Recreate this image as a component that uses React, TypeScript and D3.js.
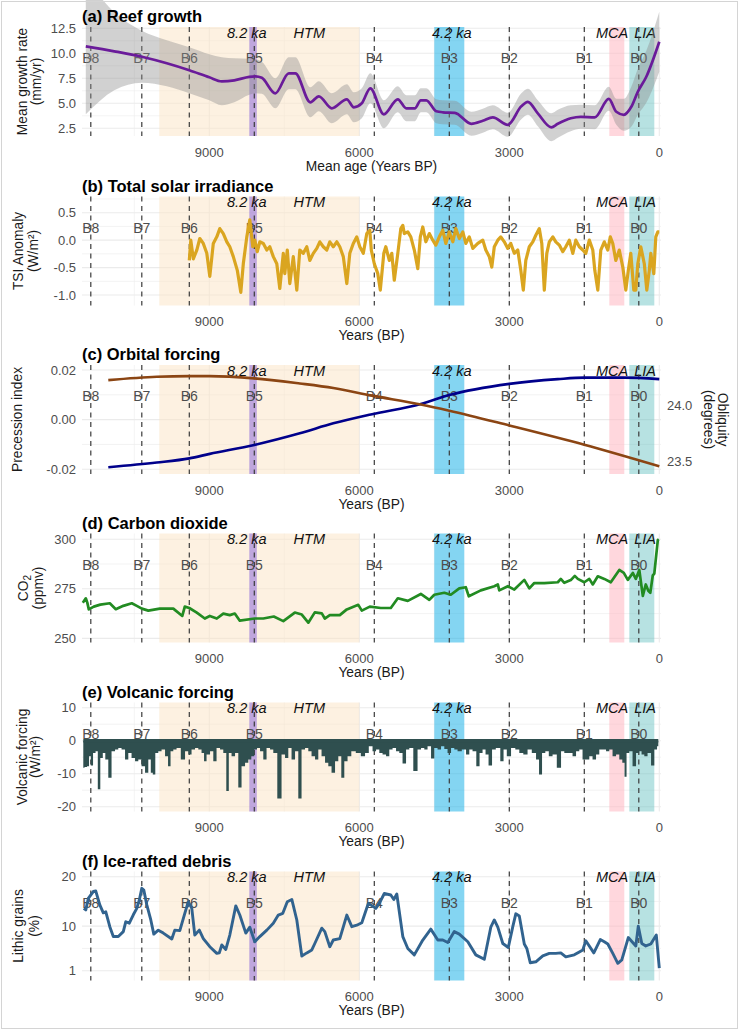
import React from "react";
import * as d3 from "d3";

const FONT = "'Liberation Sans', Arial, Helvetica, sans-serif";

// Bond events (years BP)
const bondLabels = ["B0", "B1", "B2", "B3", "B4", "B5", "B6", "B7", "B8"];
const bondAges = [410, 1500, 3000, 4200, 5700, 8100, 9400, 10350, 11370];

// Climate periods (years BP)
const periodLabels = ["HTM", "8.2 ka", "4.2 ka", "MCA", "LIA"];
const periodFrom = [10000, 8200, 4500, 1000, 600];
const periodTo = [6000, 8050, 3900, 700, 100];
const periodLabelAges = [7000, 8250, 4150, 945, 285];
const periodFills = ["#fbe3c4", "#9370db", "#1fb3e8", "#ffb6c1", "#5fbfbf"];
const periodOpacity = [0.5, 0.58, 0.55, 0.55, 0.45];

const xMajor = [9000, 6000, 3000, 0];
const xMinor = [10500, 7500, 4500, 1500];

// (a) reef growth: mean age, mean rate, standard error
const reefAge = [11470, 10900, 10350, 9850, 9400, 9000, 8750, 8500, 8200, 8080, 7950, 7680, 7410, 7280, 6980, 6810, 6550, 6250, 6110, 5950, 5780, 5510, 5230, 5060, 4890, 4770, 4660, 4460, 4330, 4090, 3760, 3530, 3330, 3030, 2760, 2630, 2430, 2160, 2030, 1770, 1570, 1290, 1010, 860, 710, 560, 430, 260, 0];
const reefRate = [10.7, 10.2, 9.65, 9.0, 8.3, 7.6, 7.2, 7.3, 7.65, 7.7, 7.55, 6.0, 8.0, 8.0, 5.1, 5.7, 4.5, 5.4, 4.6, 5.0, 6.5, 3.9, 5.4, 4.5, 4.5, 5.3, 5.3, 4.2, 4.1, 4.05, 2.95, 3.25, 3.6, 2.85, 4.7, 5.15, 4.0, 2.6, 2.95, 3.5, 3.65, 3.6, 5.45, 4.15, 3.85, 4.65, 6.15, 7.65, 11.15];
const reefSe = [6.8, 3.9, 2.6, 2.3, 2.3, 2.3, 2.4, 2.2, 1.8, 1.7, 1.6, 1.5, 1.6, 1.6, 1.5, 1.5, 1.5, 1.5, 1.5, 1.5, 1.5, 1.4, 1.3, 1.3, 1.3, 1.2, 1.2, 1.2, 1.2, 1.2, 1.2, 1.2, 1.2, 1.2, 1.3, 1.3, 1.3, 1.4, 1.4, 1.3, 1.2, 1.2, 1.2, 1.3, 1.6, 2.0, 2.3, 2.6, 3.0];

// (b) total solar irradiance anomaly [age, W/m2]
const tsiSeries: [number, number][] = [
  [9400, -0.37], [9370, 0.0], [9320, -0.34], [9250, -0.18], [9190, 0.03], [9120, -0.06], [9050, -0.24], [8990, -0.66], [8920, -0.06], [8850, 0.06], [8790, 0.21], [8720, 0.12], [8650, -0.03], [8590, -0.12], [8520, -0.3], [8440, -0.55], [8370, -0.95], [8320, -0.43], [8250, 0.06], [8190, 0.37], [8130, -0.12], [8090, 0.0], [8040, -0.21], [7990, -0.03], [7920, -0.06], [7850, -0.18], [7790, -0.12], [7720, -0.3], [7650, -0.43], [7590, -0.88], [7520, -0.24], [7490, -0.61], [7440, -0.18], [7390, -0.79], [7320, -0.3], [7250, -0.91], [7190, -0.18], [7120, -0.24], [7050, -0.12], [6990, -0.37], [6920, -0.24], [6850, -0.15], [6790, -0.03], [6720, -0.12], [6650, -0.18], [6590, -0.03], [6520, -0.12], [6450, -0.03], [6390, -0.12], [6320, -0.3], [6250, -0.79], [6190, -0.24], [6120, -0.06], [6050, 0.06], [5990, -0.12], [5920, -0.24], [5850, 0.12], [5790, 0.18], [5760, -0.18], [5700, -0.43], [5630, -0.61], [5580, -0.91], [5510, -0.24], [5470, -0.12], [5400, -0.37], [5350, -0.24], [5300, -0.73], [5230, -0.24], [5170, 0.21], [5130, 0.27], [5100, 0.12], [5030, 0.15], [4970, 0.06], [4900, -0.18], [4830, -0.52], [4780, 0.06], [4730, 0.24], [4670, -0.03], [4600, 0.12], [4530, 0.0], [4470, -0.09], [4400, 0.06], [4330, 0.18], [4270, -0.06], [4200, 0.15], [4130, -0.03], [4070, 0.21], [4000, 0.03], [3930, 0.15], [3870, -0.06], [3800, 0.06], [3730, -0.15], [3630, -0.06], [3530, 0.0], [3470, -0.18], [3400, -0.3], [3350, -0.49], [3300, -0.12], [3230, 0.0], [3170, 0.06], [3100, -0.03], [3030, -0.15], [2970, -0.06], [2900, -0.24], [2830, -0.18], [2770, -0.55], [2720, -0.91], [2670, -0.37], [2600, -0.12], [2530, -0.03], [2470, 0.09], [2400, 0.21], [2350, -0.06], [2300, -0.91], [2250, -0.24], [2200, -0.03], [2130, 0.06], [2070, -0.03], [2000, -0.09], [1930, -0.21], [1870, -0.12], [1800, 0.0], [1730, -0.24], [1670, 0.0], [1600, -0.12], [1530, -0.18], [1470, -0.24], [1400, 0.0], [1330, -0.18], [1290, -0.55], [1230, -0.91], [1170, -0.18], [1100, -0.03], [1030, -0.18], [980, 0.06], [930, -0.06], [870, -0.37], [800, -0.18], [730, -0.49], [670, -0.91], [620, -0.55], [570, -0.24], [510, -0.91], [470, -0.91], [430, -0.43], [370, -0.12], [300, -0.43], [250, -0.91], [200, -0.55], [170, -0.24], [110, -0.61], [70, 0.06], [30, 0.15], [0, 0.15],
];

// (c) orbital forcing
const precessionSeries: [number, number][] = [
  [11020, -0.0192], [10050, -0.0173], [9400, -0.0156], [8990, -0.0138], [8100, -0.0102], [7190, -0.0055], [6520, -0.0015], [5770, 0.0021], [4770, 0.0063], [4200, 0.0099], [3000, 0.0144], [2030, 0.0163], [1500, 0.0169], [700, 0.0169], [0, 0.0163],
];
const obliquitySeries: [number, number][] = [
  [11020, 24.22], [10050, 24.25], [9400, 24.255], [8990, 24.255], [8100, 24.235], [7190, 24.19], [6520, 24.15], [5770, 24.085], [4770, 24.005], [4200, 23.95], [3000, 23.82], [1500, 23.65], [0, 23.46],
];

// (d) carbon dioxide [age, ppmv]
const co2Series: [number, number][] = [
  [11530, 268.0], [11470, 270.2], [11440, 268.0], [11410, 264.6], [11310, 266.0], [11180, 267.0], [10990, 267.7], [10870, 264.7], [10720, 266.4], [10550, 267.7], [10450, 266.4], [10350, 265.0], [10220, 264.0], [9990, 265.0], [9720, 265.0], [9540, 261.3], [9490, 266.0], [9400, 265.3], [9250, 263.0], [9090, 260.0], [8990, 261.3], [8850, 260.0], [8720, 262.5], [8590, 261.7], [8490, 262.5], [8390, 258.9], [8090, 260.0], [7920, 260.0], [7710, 261.0], [7520, 258.7], [7290, 263.0], [7150, 262.0], [7020, 257.9], [6890, 263.1], [6750, 262.6], [6690, 260.0], [6590, 261.7], [6390, 261.7], [6250, 264.6], [6020, 266.9], [5950, 264.0], [5790, 266.0], [5570, 265.3], [5370, 265.3], [5230, 270.2], [5030, 268.9], [4770, 272.4], [4600, 269.4], [4500, 272.0], [4300, 273.0], [4170, 272.0], [4000, 275.2], [3870, 275.8], [3810, 271.2], [3570, 274.2], [3300, 276.3], [3230, 277.2], [3200, 274.2], [3030, 276.3], [2900, 274.6], [2700, 279.5], [2600, 275.2], [2500, 277.9], [2300, 277.9], [2030, 278.3], [1970, 280.0], [1900, 278.0], [1770, 279.4], [1690, 281.5], [1630, 280.0], [1500, 278.3], [1400, 280.0], [1330, 277.2], [1230, 281.3], [1100, 280.0], [970, 278.3], [800, 284.5], [710, 283.0], [630, 279.5], [530, 283.0], [470, 280.0], [400, 284.5], [330, 271.4], [270, 277.2], [220, 274.0], [180, 273.0], [130, 281.8], [100, 282.7], [30, 299.6], [10, 300.0],
];

// (e) volcanic forcing [age, W/m2]
const volcanicSeries: [number, number][] = [
  [11520, -8.2], [11470, -8.0], [11420, -7.7], [11390, -4.7], [11350, -7.5], [11300, -3.7], [11250, -3.2], [11210, -14.7], [11150, -5.2], [11110, -3.7], [11050, -5.7], [10990, -11.2], [10920, -3.2], [10850, -2.7], [10790, -2.2], [10720, -2.7], [10650, -5.7], [10590, -3.7], [10520, -5.2], [10450, -6.2], [10390, -5.7], [10320, -7.7], [10250, -9.7], [10190, -5.7], [10150, -9.7], [10110, -10.2], [10050, -3.7], [9990, -3.2], [9920, -2.7], [9850, -4.7], [9800, -7.7], [9750, -3.2], [9690, -2.7], [9620, -2.2], [9520, -5.7], [9450, -3.2], [9390, -4.2], [9320, -2.7], [9250, -2.2], [9190, -2.7], [9120, -3.7], [9090, -6.2], [9020, -4.2], [8950, -3.2], [8890, -6.2], [8820, -2.2], [8750, -2.7], [8690, -3.7], [8630, -15.2], [8590, -3.7], [8520, -4.7], [8450, -3.7], [8390, -14.2], [8320, -7.7], [8250, -6.7], [8190, -5.7], [8130, -4.7], [8070, -2.7], [8020, -2.2], [7950, -3.2], [7890, -5.7], [7820, -2.2], [7750, -2.7], [7690, -3.7], [7590, -17.5], [7520, -4.2], [7450, -5.2], [7390, -2.2], [7320, -5.7], [7250, -3.2], [7190, -17.5], [7120, -2.7], [7050, -2.2], [6990, -3.2], [6920, -4.7], [6850, -5.7], [6790, -2.7], [6720, -4.7], [6650, -6.7], [6590, -7.7], [6520, -9.7], [6450, -6.2], [6390, -4.7], [6330, -11.2], [6270, -6.2], [6200, -4.7], [6120, -3.2], [6020, -3.7], [5920, -4.7], [5850, -3.7], [5770, -1.7], [5700, -3.2], [5630, -2.7], [5570, -3.7], [5500, -4.2], [5430, -4.7], [5370, -2.7], [5300, -2.2], [5230, -3.2], [5170, -3.7], [5100, -6.9], [5030, -2.7], [4970, -2.2], [4870, -9.2], [4800, -2.7], [4730, -2.2], [4670, -2.7], [4600, -1.7], [4530, -5.4], [4470, -2.2], [4400, -2.7], [4330, -1.7], [4270, -2.5], [4200, -3.7], [4130, -2.2], [4070, -2.7], [4000, -3.2], [3900, -2.7], [3830, -4.2], [3770, -2.7], [3700, -3.2], [3620, -7.7], [3570, -3.7], [3500, -2.7], [3450, -4.2], [3380, -7.5], [3310, -2.7], [3230, -2.2], [3130, -6.2], [3100, -2.7], [3000, -4.7], [2930, -2.2], [2830, -2.7], [2770, -3.7], [2670, -4.2], [2600, -2.7], [2500, -3.7], [2430, -5.7], [2380, -10.2], [2310, -3.7], [2250, -3.2], [2170, -4.7], [2100, -4.2], [2000, -8.2], [1930, -3.2], [1870, -3.7], [1770, -3.7], [1700, -4.7], [1630, -3.2], [1570, -2.7], [1500, -5.7], [1430, -5.7], [1370, -4.7], [1300, -5.7], [1230, -4.2], [1170, -2.7], [1100, -2.7], [1030, -3.2], [970, -2.7], [900, -4.7], [830, -4.2], [770, -5.7], [710, -6.7], [680, -10.9], [630, -3.7], [570, -3.2], [500, -7.7], [430, -3.7], [380, -3.2], [330, -4.2], [270, -4.7], [200, -3.7], [130, -7.5], [70, -2.7], [20, -1.7],
];

// (f) ice-rafted debris [age, lithic grains %]
const irdSeries: [number, number][] = [
  [11510, 13.6], [11470, 13.3], [11420, 15.6], [11320, 17.0], [11270, 17.1], [11190, 14.3], [11120, 12.7], [11070, 12.9], [10990, 9.9], [10920, 7.9], [10820, 7.9], [10720, 8.9], [10670, 10.9], [10600, 10.6], [10520, 12.3], [10450, 13.6], [10400, 15.3], [10350, 17.65], [10310, 17.3], [10250, 14.3], [10170, 11.25], [10110, 8.4], [10020, 9.2], [9920, 8.6], [9750, 7.4], [9690, 9.2], [9590, 9.1], [9490, 12.6], [9420, 14.95], [9350, 13.6], [9290, 8.2], [9200, 9.2], [9120, 7.5], [8990, 5.85], [8850, 4.5], [8800, 4.6], [8750, 6.2], [8670, 5.3], [8590, 8.2], [8470, 14.1], [8390, 12.25], [8270, 8.6], [8190, 9.8], [8090, 6.85], [7990, 7.9], [7850, 9.2], [7720, 10.6], [7620, 12.25], [7530, 12.6], [7440, 14.95], [7350, 15.4], [7250, 11.25], [7150, 3.96], [7050, 4.6], [6950, 5.2], [6890, 6.5], [6750, 9.6], [6690, 8.9], [6590, 5.85], [6520, 7.2], [6390, 7.5], [6250, 12.25], [6150, 9.9], [6050, 10.2], [5950, 10.7], [5820, 14.6], [5770, 14.3], [5670, 13.6], [5600, 14.6], [5500, 16.6], [5370, 16.3], [5310, 15.4], [5250, 16.5], [5130, 7.9], [5030, 5.5], [4900, 4.2], [4730, 7.2], [4570, 9.4], [4430, 7.2], [4330, 7.2], [4230, 6.7], [4100, 8.9], [4000, 8.4], [3830, 6.85], [3670, 4.2], [3500, 3.3], [3370, 9.8], [3300, 11.25], [3230, 9.8], [3130, 6.5], [3020, 5.7], [2930, 9.9], [2870, 12.5], [2800, 12.05], [2700, 6.4], [2650, 5.5], [2580, 2.6], [2470, 2.8], [2330, 4.0], [2200, 4.5], [2070, 4.5], [1970, 4.6], [1870, 3.8], [1700, 4.2], [1600, 4.8], [1530, 5.2], [1470, 7.05], [1310, 4.6], [1180, 7.3], [1100, 6.85], [1030, 6.4], [930, 4.5], [830, 2.5], [750, 3.2], [620, 7.7], [470, 6.0], [420, 10.0], [350, 6.5], [270, 6.0], [170, 6.4], [60, 8.2], [0, 1.5],
];

// Layout
const PANEL_LEFT = 82;
const PANEL_RIGHT = 661;
const PANEL_H = 109;
const x = d3.scaleLinear().domain([11546, -34]).range([PANEL_LEFT, PANEL_RIGHT]);

const GRID = "#ebebeb";
const TICK_COLOR = "#4d4d4d";

type Scale = d3.ScaleLinear<number, number>;

type PanelProps = {
  top: number;
  domain: [number, number];
  major: number[];
  minor: number[];
  fmt: (v: number) => string;
  title: string;
  yTitle: React.ReactNode[];
  yTitleX: number[];
  xTitle: string;
  children: (y: Scale) => React.ReactNode;
  extra?: (y: Scale) => React.ReactNode;
};

function Panel(p: PanelProps) {
  const bottom = p.top + PANEL_H;
  const y = d3.scaleLinear().domain(p.domain).range([bottom, p.top]);
  const midY = p.top + PANEL_H / 2;
  return (
    <g>
      {p.minor.map((v) => (
        <line key={`ymn${v}`} x1={PANEL_LEFT} x2={PANEL_RIGHT} y1={y(v)} y2={y(v)} stroke={GRID} strokeWidth={0.6} />
      ))}
      {xMinor.map((v) => (
        <line key={`xmn${v}`} x1={x(v)} x2={x(v)} y1={p.top} y2={bottom} stroke={GRID} strokeWidth={0.6} />
      ))}
      {p.major.map((v) => (
        <line key={`ymj${v}`} x1={PANEL_LEFT} x2={PANEL_RIGHT} y1={y(v)} y2={y(v)} stroke={GRID} strokeWidth={1.1} />
      ))}
      {xMajor.map((v) => (
        <line key={`xmj${v}`} x1={x(v)} x2={x(v)} y1={p.top} y2={bottom} stroke={GRID} strokeWidth={1.1} />
      ))}
      {periodFrom.map((a, i) => (
        <rect
          key={`band${i}`}
          x={x(a)}
          width={x(periodTo[i]) - x(a)}
          y={p.top}
          height={PANEL_H}
          fill={periodFills[i]}
          fillOpacity={periodOpacity[i]}
        />
      ))}
      {periodLabels.map((t, i) => (
        <text
          key={`pl${i}`}
          x={x(periodLabelAges[i])}
          y={p.top + 10.5}
          textAnchor="middle"
          fontStyle="italic"
          fontSize={14.5}
          fill="#111"
        >
          {t}
        </text>
      ))}
      {bondLabels.map((t, i) => (
        <text key={`bl${i}`} x={x(bondAges[i])} y={p.top + 36} textAnchor="middle" fontSize={14} fill={TICK_COLOR}>
          {t}
        </text>
      ))}
      {bondAges.map((a, i) => (
        <line
          key={`bd${i}`}
          x1={x(a)}
          x2={x(a)}
          y1={p.top}
          y2={bottom}
          stroke="#3a3a3a"
          strokeWidth={1.2}
          strokeDasharray="5,4.5"
        />
      ))}
      {p.children(y)}
      {p.major.map((v) => (
        <text key={`yt${v}`} x={76} y={y(v) + 4.6} textAnchor="end" fontSize={13} fill={TICK_COLOR}>
          {p.fmt(v)}
        </text>
      ))}
      {xMajor.map((v) => (
        <text key={`xt${v}`} x={x(v)} y={bottom + 20.5} textAnchor="middle" fontSize={13} fill={TICK_COLOR}>
          {String(v)}
        </text>
      ))}
      <text x={(PANEL_LEFT + PANEL_RIGHT) / 2} y={bottom + 34.5} textAnchor="middle" fontSize={13.8} fill="#1a1a1a">
        {p.xTitle}
      </text>
      <text x={82} y={p.top - 4.8} fontSize={16.5} fontWeight="bold" fill="#000">
        {p.title}
      </text>
      {p.yTitle.map((t, i) => (
        <text
          key={`ytl${i}`}
          transform={`translate(${p.yTitleX[i]},${midY}) rotate(-90)`}
          textAnchor="middle"
          fontSize={13.8}
          fill="#1a1a1a"
        >
          {t}
        </text>
      ))}
      {p.extra ? p.extra(y) : null}
    </g>
  );
}

const fmt1 = (v: number) => v.toFixed(1);
const fmt2 = (v: number) => v.toFixed(2);
const fmt0 = (v: number) => String(v);

export default function App() {
  const idx = d3.range(reefAge.length);
  return (
    <svg
      width={742}
      height={1030}
      style={{ position: "absolute", left: 0, top: 0, display: "block" }}
      fontFamily={FONT}
    >
      <rect x={0} y={0} width={742} height={1030} fill="#fff" />

      <Panel
        top={27}
        domain={[1.73, 12.63]}
        major={[2.5, 5, 7.5, 10, 12.5]}
        minor={[3.75, 6.25, 8.75, 11.25]}
        fmt={fmt1}
        title="(a) Reef growth"
        yTitle={["Mean growth rate", "(mm/yr)"]}
        yTitleX={[26.5, 40.5]}
        xTitle="Mean age (Years BP)"
      >
        {(y) => {
          const ribbon = d3
            .area<number>()
            .x((i) => x(reefAge[i]))
            .y0((i) => y(reefRate[i] - reefSe[i]))
            .y1((i) => y(reefRate[i] + reefSe[i]))
            .curve(d3.curveMonotoneX);
          const line = d3
            .line<number>()
            .x((i) => x(reefAge[i]))
            .y((i) => y(reefRate[i]))
            .curve(d3.curveMonotoneX);
          return (
            <g>
              <path d={ribbon(idx) || ""} fill="#8c8c8c" fillOpacity={0.4} />
              <path d={line(idx) || ""} fill="none" stroke="#6a1b9a" strokeWidth={2.7} strokeLinejoin="round" />
            </g>
          );
        }}
      </Panel>

      <Panel
        top={196.5}
        domain={[-1.19, 0.795]}
        major={[-1, -0.5, 0, 0.5]}
        minor={[-0.75, -0.25, 0.25, 0.75]}
        fmt={fmt1}
        title="(b) Total solar irradiance"
        yTitle={["TSI Anomaly", "(W/m²)"]}
        yTitleX={[22.5, 37.5]}
        xTitle="Years (BP)"
      >
        {(y) => {
          const line = d3
            .line<[number, number]>()
            .x((d) => x(d[0]))
            .y((d) => y(d[1]));
          return (
            <path d={line(tsiSeries) || ""} fill="none" stroke="#daa520" strokeWidth={3.2} strokeLinejoin="round" />
          );
        }}
      </Panel>

      <Panel
        top={365}
        domain={[-0.0219, 0.022]}
        major={[-0.02, 0, 0.02]}
        minor={[-0.01, 0.01]}
        fmt={fmt2}
        title="(c) Orbital forcing"
        yTitle={["Precession index"]}
        yTitleX={[22]}
        xTitle="Years (BP)"
        extra={() => {
          const ob = d3.scaleLinear().domain([23.392, 24.353]).range([365 + PANEL_H, 365]);
          return (
            <g>
              {[23.5, 24.0].map((v) => (
                <text key={`ob${v}`} x={667} y={ob(v) + 4.6} fontSize={13} fill={TICK_COLOR}>
                  {v.toFixed(1)}
                </text>
              ))}
              <text
                transform={`translate(718,${365 + PANEL_H / 2}) rotate(90)`}
                textAnchor="middle"
                fontSize={13.8}
                fill="#1a1a1a"
              >
                Obliquity
              </text>
              <text
                transform={`translate(704,${365 + PANEL_H / 2}) rotate(90)`}
                textAnchor="middle"
                fontSize={13.8}
                fill="#1a1a1a"
              >
                (degrees)
              </text>
            </g>
          );
        }}
      >
        {(y) => {
          const ob = d3.scaleLinear().domain([23.392, 24.353]).range([365 + PANEL_H, 365]);
          const prec = d3
            .line<[number, number]>()
            .x((d) => x(d[0]))
            .y((d) => y(d[1]))
            .curve(d3.curveMonotoneX);
          const obl = d3
            .line<[number, number]>()
            .x((d) => x(d[0]))
            .y((d) => ob(d[1]))
            .curve(d3.curveMonotoneX);
          return (
            <g>
              <path d={prec(precessionSeries) || ""} fill="none" stroke="#00008b" strokeWidth={2.6} />
              <path d={obl(obliquitySeries) || ""} fill="none" stroke="#8b4513" strokeWidth={2.6} />
            </g>
          );
        }}
      </Panel>

      <Panel
        top={533.5}
        domain={[247.9, 302.9]}
        major={[250, 275, 300]}
        minor={[262.5, 287.5]}
        fmt={fmt0}
        title="(d) Carbon dioxide"
        yTitle={[
          <>
            CO<tspan fontSize={10} dy={3}>2</tspan>
          </>,
          "(ppmv)",
        ]}
        yTitleX={[27.5, 43]}
        xTitle="Years (BP)"
      >
        {(y) => {
          const line = d3
            .line<[number, number]>()
            .x((d) => x(d[0]))
            .y((d) => y(d[1]));
          return (
            <path d={line(co2Series) || ""} fill="none" stroke="#228b22" strokeWidth={2.7} strokeLinejoin="round" />
          );
        }}
      </Panel>

      <Panel
        top={702.5}
        domain={[-21.45, 11.58]}
        major={[-20, -10, 0, 10]}
        minor={[-15, -5, 5]}
        fmt={fmt0}
        title="(e) Volcanic forcing"
        yTitle={["Volcanic forcing", "(W/m²)"]}
        yTitleX={[26.5, 40]}
        xTitle="Years (BP)"
      >
        {(y) => {
          const area = d3
            .area<[number, number]>()
            .x((d) => x(d[0]))
            .y0(() => y(0))
            .y1((d) => y(d[1]))
            .curve(d3.curveStep);
          const first = volcanicSeries[0][0];
          const last = volcanicSeries[volcanicSeries.length - 1][0];
          return (
            <g>
              <path d={area(volcanicSeries) || ""} fill="#2f4f4f" />
              <line x1={x(first)} x2={x(last)} y1={y(0)} y2={y(0)} stroke="#2f4f4f" strokeWidth={3.6} />
            </g>
          );
        }}
      </Panel>

      <Panel
        top={871.5}
        domain={[-0.98, 21.05]}
        major={[1, 10, 20]}
        minor={[5.5, 15]}
        fmt={fmt0}
        title="(f) Ice-rafted debris"
        yTitle={["Lithic grains", "(%)"]}
        yTitleX={[23, 39]}
        xTitle="Years (BP)"
      >
        {(y) => {
          const line = d3
            .line<[number, number]>()
            .x((d) => x(d[0]))
            .y((d) => y(d[1]));
          return (
            <path d={line(irdSeries) || ""} fill="none" stroke="#31638f" strokeWidth={2.9} strokeLinejoin="round" />
          );
        }}
      </Panel>

      <rect x={1.5} y={1.5} width={736} height={1027} fill="none" stroke="#d4d4d4" strokeWidth={1} />
    </svg>
  );
}
